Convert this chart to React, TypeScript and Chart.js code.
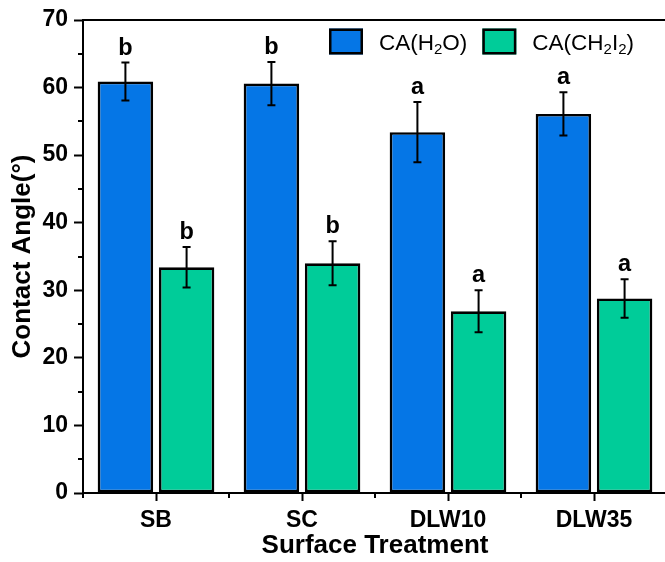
import React, { useEffect, useRef } from 'react';
import { Chart, registerables } from 'chart.js';

Chart.register(...registerables);

const categories = ['SB', 'SC', 'DLW10', 'DLW35'];
const waterValues = [60.9, 60.6, 53.4, 56.1];
const waterErrors = [2.8, 3.2, 4.45, 3.2];
const diiodoValues = [33.4, 34.0, 26.9, 28.8];
const diiodoErrors = [3.0, 3.25, 3.1, 2.85];
const waterLetters = ['b', 'b', 'a', 'a'];
const diiodoLetters = ['b', 'b', 'a', 'a'];
const yMinorTicks = [5, 15, 25, 35, 45, 55, 65];
const waterLegendParts = [
  { t: 'CA(H', sub: false },
  { t: '2', sub: true },
  { t: 'O)', sub: false },
];
const diiodoLegendParts = [
  { t: 'CA(CH', sub: false },
  { t: '2', sub: true },
  { t: 'I', sub: false },
  { t: '2', sub: true },
  { t: ')', sub: false },
];

const FONT = "'Liberation Sans', Arial, Helvetica, sans-serif";
const BLUE = '#0576E6';
const GREEN = '#00CC99';

const decorPlugin = {
  id: 'decor',
  afterDatasetsDraw(chart: any) {
    const ctx = chart.ctx;
    const yScale = chart.scales.y;
    const errs = [waterErrors, diiodoErrors];
    const letters = [waterLetters, diiodoLetters];
    ctx.save();
    chart.data.datasets.forEach((ds: any, di: number) => {
      const meta = chart.getDatasetMeta(di);
      meta.data.forEach((bar: any, i: number) => {
        const v = ds.data[i];
        const e = errs[di][i];
        const top = yScale.getPixelForValue(v + e);
        const bot = yScale.getPixelForValue(v - e);
        ctx.strokeStyle = '#000';
        ctx.lineWidth = 2;
        ctx.beginPath();
        ctx.moveTo(bar.x, top);
        ctx.lineTo(bar.x, bot);
        ctx.moveTo(bar.x - 4, top);
        ctx.lineTo(bar.x + 4, top);
        ctx.moveTo(bar.x - 4, bot);
        ctx.lineTo(bar.x + 4, bot);
        ctx.stroke();
        ctx.fillStyle = '#000';
        ctx.font = `bold 23.5px ${FONT}`;
        ctx.textAlign = 'center';
        ctx.textBaseline = 'alphabetic';
        ctx.fillText(letters[di][i], bar.x, top - 8);
      });
    });
    ctx.restore();
  },
  afterDraw(chart: any) {
    const ctx = chart.ctx;
    const { left, right, top, bottom } = chart.chartArea;
    const yScale = chart.scales.y;
    const xScale = chart.scales.x;
    ctx.save();
    ctx.strokeStyle = '#000';
    ctx.lineWidth = 2;
    // frame top & right
    ctx.beginPath();
    ctx.moveTo(left, top);
    ctx.lineTo(right, top);
    ctx.lineTo(right, bottom);
    ctx.stroke();
    // minor y ticks
    ctx.beginPath();
    yMinorTicks.forEach((v) => {
      const py = Math.round(yScale.getPixelForValue(v));
      ctx.moveTo(left - 5, py);
      ctx.lineTo(left, py);
    });
    // minor x ticks at category boundaries
    for (let i = 0; i <= categories.length; i++) {
      const px = xScale.getPixelForValue(i - 0.5);
      ctx.moveTo(px, bottom);
      ctx.lineTo(px, bottom + 5);
    }
    ctx.stroke();

    // legend
    const items = [
      { color: BLUE, parts: waterLegendParts },
      { color: GREEN, parts: diiodoLegendParts },
    ];
    let lx = left + 246;
    const boxTop = top + 8.5;
    const boxW = 34;
    const boxH = 26;
    const baseline = top + 30.2;
    items.forEach((item) => {
      ctx.fillStyle = item.color;
      ctx.fillRect(lx, boxTop, boxW, boxH);
      ctx.lineWidth = 2.5;
      ctx.strokeStyle = '#000';
      ctx.strokeRect(lx + 1.25, boxTop + 1.25, boxW - 2.5, boxH - 2.5);
      let tx = lx + boxW + 16;
      ctx.fillStyle = '#000';
      ctx.textAlign = 'left';
      ctx.textBaseline = 'alphabetic';
      item.parts.forEach((p) => {
        ctx.font = p.sub ? `15px ${FONT}` : `22.5px ${FONT}`;
        ctx.fillText(p.t, tx, p.sub ? baseline + 3.6 : baseline);
        tx += ctx.measureText(p.t).width;
      });
      lx = tx + 15;
    });
    ctx.restore();
  },
};

export default function App() {
  const canvasRef = useRef<HTMLCanvasElement | null>(null);

  useEffect(() => {
    document.body.style.margin = '0';
    const canvas = canvasRef.current;
    if (!canvas) return;
    const chart = new Chart(canvas, {
      type: 'bar',
      data: {
        labels: categories,
        datasets: [
          {
            label: 'CA(H2O)',
            data: waterValues,
            backgroundColor: BLUE,
            borderColor: '#000',
            borderWidth: 2.7,
            borderSkipped: false,
            categoryPercentage: 0.838,
            barPercentage: 0.907,
          },
          {
            label: 'CA(CH2I2)',
            data: diiodoValues,
            backgroundColor: GREEN,
            borderColor: '#000',
            borderWidth: 2.7,
            borderSkipped: false,
            categoryPercentage: 0.838,
            barPercentage: 0.907,
          },
        ],
      },
      options: {
        responsive: false,
        animation: false,
        devicePixelRatio: 1,
        layout: { padding: { top: 20, right: 5, bottom: 0, left: 0 } },
        plugins: {
          legend: { display: false },
          tooltip: { enabled: false },
          title: { display: false },
        },
        scales: {
          x: {
            type: 'category',
            offset: true,
            grid: {
              display: true,
              drawOnChartArea: false,
              drawTicks: true,
              tickLength: 8,
              tickWidth: 2,
              tickColor: '#000',
              offset: false,
            },
            border: { display: true, color: '#000', width: 2 },
            ticks: {
              color: '#000',
              font: { family: FONT, size: 23, weight: 'bold' },
              padding: 6,
              maxRotation: 0,
              autoSkip: false,
            },
            title: {
              display: true,
              text: 'Surface Treatment',
              color: '#000',
              font: { family: FONT, size: 26, weight: 'bold', lineHeight: 1.2 },
              padding: { top: 0, bottom: 1 },
            },
            afterFit: (s: any) => {
              s.height = 69;
            },
          },
          y: {
            min: 0,
            max: 70,
            ticks: {
              stepSize: 10,
              color: '#000',
              font: { family: FONT, size: 23, weight: 'bold' },
              padding: 6,
            },
            grid: {
              display: true,
              drawOnChartArea: false,
              drawTicks: true,
              tickLength: 9,
              tickWidth: 2,
              tickColor: '#000',
            },
            border: { display: true, color: '#000', width: 2 },
            title: {
              display: true,
              text: 'Contact Angle(°)',
              color: '#000',
              font: { family: FONT, size: 26, weight: 'bold', lineHeight: 1.2 },
              padding: { top: 7, bottom: 0 },
            },
            afterFit: (s: any) => {
              s.width = 83;
            },
          },
        },
      },
      plugins: [decorPlugin],
    } as any);
    return () => {
      chart.destroy();
    };
  }, []);

  return (
    <div style={{ width: 665, height: 562, overflow: 'hidden', background: '#fff' }}>
      <canvas
        ref={canvasRef}
        width={672}
        height={562}
        style={{ display: 'block', width: 672, height: 562 }}
      />
    </div>
  );
}
